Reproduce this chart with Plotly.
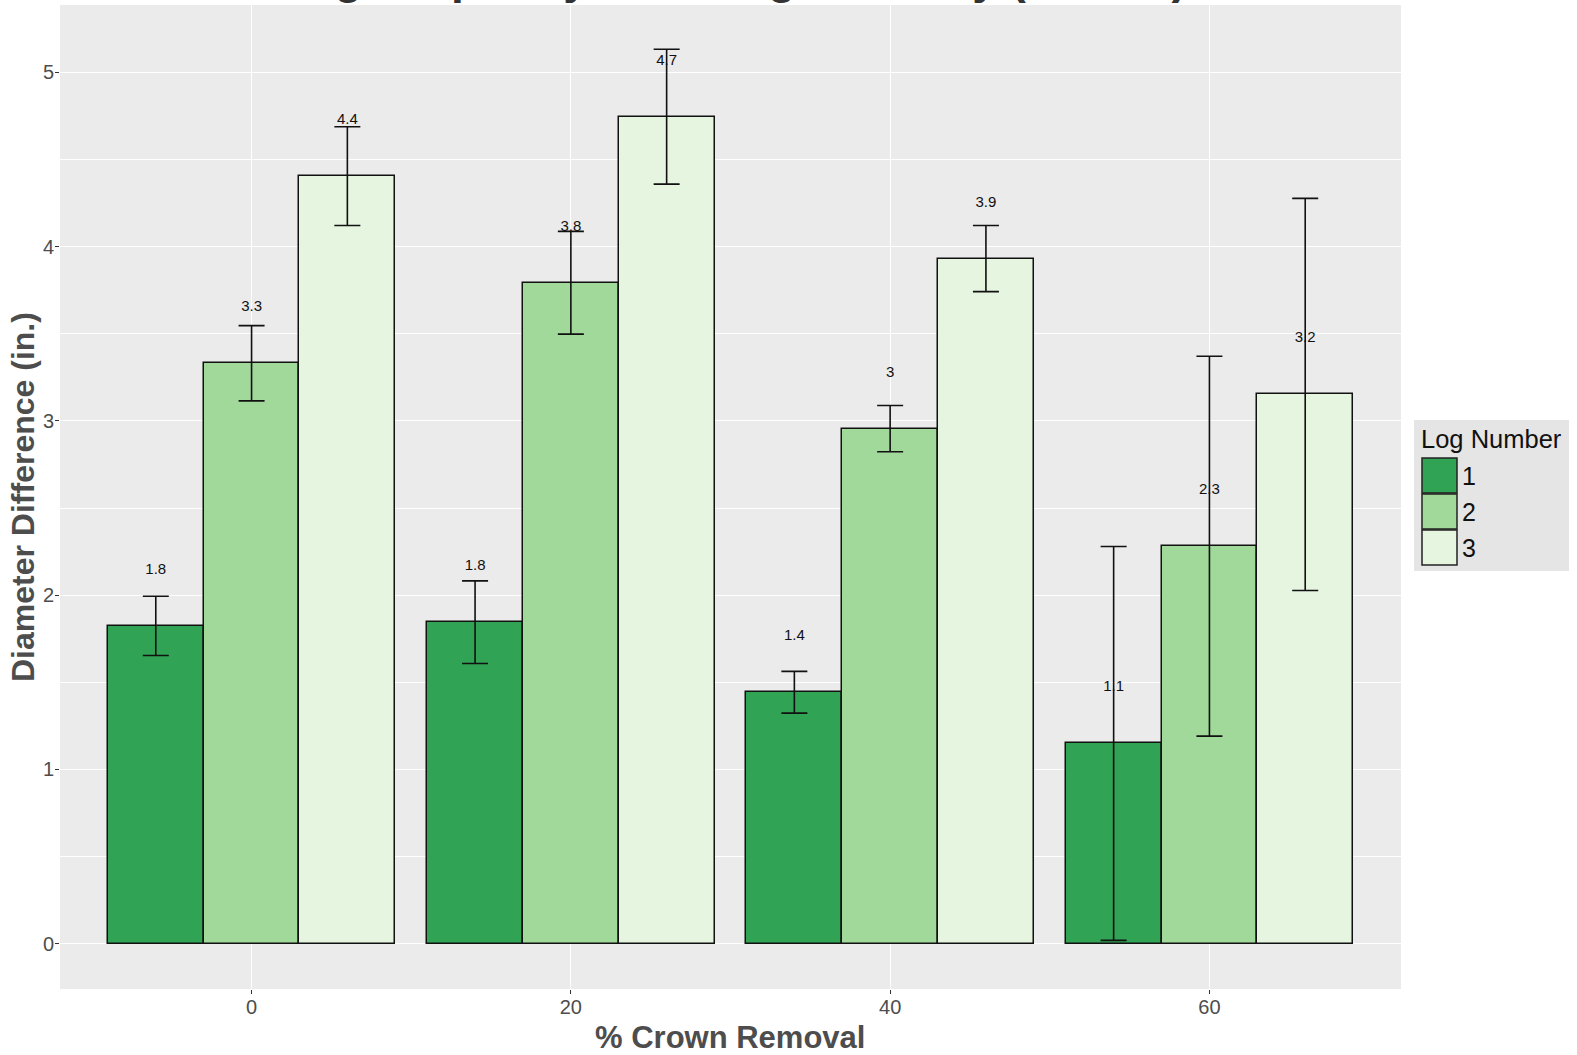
import plotly.graph_objects as go

# ---------------- data ----------------
removal = ["0", "20", "40", "60"]
log_numbers = ["1", "2", "3"]
colors = ["#31a354", "#a1d99b", "#e5f5e0"]

log1_mean = [1.824, 1.845, 1.443, 1.149]
log2_mean = [3.331, 3.793, 2.956, 2.281]
log3_mean = [4.405, 4.746, 3.932, 3.152]

log1_err = [0.170, 0.237, 0.120, 1.130]
log2_err = [0.216, 0.295, 0.133, 1.090]
log3_err = [0.283, 0.387, 0.190, 1.125]

log1_lab = ["1.8", "1.8", "1.4", "1.1"]
log2_lab = ["3.3", "3.8", "3", "2.3"]
log3_lab = ["4.4", "4.7", "3.9", "3.2"]

y_ticks = [0, 1, 2, 3, 4, 5]

means = [log1_mean, log2_mean, log3_mean]
errs = [log1_err, log2_err, log3_err]
labs = [log1_lab, log2_lab, log3_lab]

FONT = "Liberation Sans, Arial, sans-serif"
BAR_W = 0.3
LABEL_NUDGE = 0.32

fig = go.Figure()
for k, name in enumerate(log_numbers):
    xs = [i + (k - 1) * BAR_W for i in range(len(removal))]
    fig.add_trace(go.Bar(
        x=xs, y=means[k], width=BAR_W, name=name,
        marker=dict(color=colors[k], line=dict(color="#111111", width=1.5)),
        error_y=dict(type="data", array=errs[k], visible=True,
                     color="#111111", thickness=1.6, width=13),
        showlegend=False,
    ))
    fig.add_trace(go.Scatter(
        x=xs, y=[m + LABEL_NUDGE for m in means[k]], mode="text",
        text=labs[k], textposition="middle center",
        textfont=dict(family=FONT, size=15, color="#111111"),
        showlegend=False, hoverinfo="skip",
    ))

# ---------------- layout ----------------
L, R, T, B = 60, 176, 5, 66
W, H = 1577, 1055
PW, PH = W - L - R, H - T - B


def px_x(p):
    return (p - L) / PW


def px_y(p):
    return (H - B - p) / PH


fig.update_layout(
    width=W, height=H,
    margin=dict(l=L, r=R, t=T, b=B, pad=0, autoexpand=False),
    paper_bgcolor="white", plot_bgcolor="#EBEBEB",
    font=dict(family=FONT, color="#4D4D4D"),
    xaxis=dict(
        range=[-0.6, 3.6], tickmode="array",
        tickvals=list(range(len(removal))), ticktext=removal,
        showgrid=True, gridcolor="white", gridwidth=1.3,
        zeroline=False, ticks="outside", ticklen=4, tickcolor="#333333",
        ticklabelstandoff=-4,
        tickfont=dict(size=20, color="#4D4D4D"), automargin=False,
    ),
    yaxis=dict(
        range=[-0.26, 5.387], tickmode="array", tickvals=y_ticks,
        ticktext=[str(t) for t in y_ticks],
        showgrid=True, gridcolor="white", gridwidth=1.3,
        minor=dict(dtick=0.5, showgrid=True, gridcolor="white", gridwidth=0.6),
        zeroline=False, ticks="outside", ticklen=4, tickcolor="#333333",
        ticklabelstandoff=-3,
        tickfont=dict(size=20, color="#4D4D4D"), automargin=False,
    ),
    bargap=0, showlegend=False,
)

# axis titles
fig.add_annotation(text="<b>% Crown Removal</b>", xref="paper", yref="paper",
                   x=px_x(730), y=px_y(1037), xanchor="center", yanchor="middle",
                   showarrow=False, font=dict(family=FONT, size=31, color="#4D4D4D"))
fig.add_annotation(text="<b>Diameter Difference (in.)</b>", xref="paper", yref="paper",
                   x=px_x(23), y=px_y(497), xanchor="center", yanchor="middle",
                   textangle=-90, showarrow=False,
                   font=dict(family=FONT, size=32, color="#4D4D4D"))

# clipped title (only descenders visible at the top of the page)
fig.add_annotation(
    text="<b>Average Taper by Thinning Intensity (inches)</b>",
    xref="paper", yref="paper", x=px_x(697), y=px_y(5),
    xanchor="center", yanchor="bottom", showarrow=False,
    font=dict(family=FONT, size=46, color="#333333"),
)

# custom legend
fig.add_shape(type="rect", xref="paper", yref="paper",
              x0=px_x(1414), x1=px_x(1569), y0=px_y(571), y1=px_y(420),
              fillcolor="#E5E5E5", line=dict(width=0), layer="below")
fig.add_annotation(text="Log Number", xref="paper", yref="paper",
                   x=px_x(1419), y=px_y(439), xanchor="left", yanchor="middle",
                   showarrow=False, font=dict(family=FONT, size=25.5, color="#111111"))
key_tops = [458, 494, 530]
for k, name in enumerate(log_numbers):
    top = key_tops[k]
    fig.add_shape(type="rect", xref="paper", yref="paper",
                  x0=px_x(1422), x1=px_x(1457), y0=px_y(top + 35), y1=px_y(top),
                  fillcolor=colors[k], line=dict(color="#222222", width=1.5))
    fig.add_annotation(text=name, xref="paper", yref="paper",
                       x=px_x(1460), y=px_y(top + 18), xanchor="left", yanchor="middle",
                       showarrow=False, font=dict(family=FONT, size=25, color="#111111"))

fig.write_html(
    "out.html",
    config={"displayModeBar": False},
    post_script="document.body.style.margin='0';document.body.style.overflow='hidden';",
)
